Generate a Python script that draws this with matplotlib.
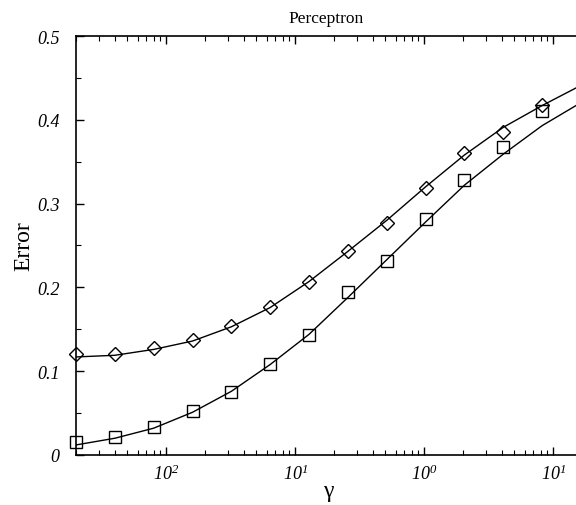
import numpy as np
import matplotlib.pyplot as plt
from matplotlib.ticker import LogLocator, FixedLocator, MultipleLocator, NullFormatter

gamma = [0.002, 0.004, 0.008, 0.016, 0.032, 0.064, 0.128, 0.256, 0.512, 1.024, 2.048, 4.096, 8.192]
err_diamond = [0.1205, 0.1205, 0.128, 0.137, 0.154, 0.177, 0.207, 0.243, 0.277, 0.319, 0.360, 0.386, 0.418]
err_square = [0.015, 0.022, 0.034, 0.0525, 0.075, 0.109, 0.143, 0.194, 0.231, 0.282, 0.328, 0.368, 0.410]

fit_gamma = [0.002, 0.004, 0.008, 0.016, 0.032, 0.064, 0.128, 0.256, 0.512, 1.024, 2.048, 4.096, 8.192, 15]
fit_diamond = [0.117, 0.119, 0.126, 0.136, 0.153, 0.176, 0.207, 0.243, 0.280, 0.320, 0.358, 0.391, 0.417, 0.438]
fit_square = [0.012, 0.020, 0.032, 0.051, 0.076, 0.108, 0.144, 0.188, 0.233, 0.278, 0.322, 0.359, 0.393, 0.417]

xtick_pos = [0.01, 0.1, 1, 10]
xtick_labels = ["10$^{2}$", "10$^{1}$", "10$^{0}$", "10$^{1}$"]
ytick_pos = [0, 0.1, 0.2, 0.3, 0.4, 0.5]
ytick_labels = ["0", "0.1", "0.2", "0.3", "0.4", "0.5"]

plt.rcParams["font.family"] = ["Liberation Serif", "DejaVu Serif"]
plt.rcParams["mathtext.fontset"] = "custom"
plt.rcParams["mathtext.rm"] = "Liberation Serif:italic"
plt.rcParams["mathtext.it"] = "Liberation Serif:italic"

fig = plt.figure(figsize=(5.76, 5.06), dpi=100)
ax = fig.add_axes([76 / 576, 50 / 506, 1 - 76 / 576, 419 / 506])

ax.plot(fit_gamma, fit_diamond, color="black", lw=1)
ax.plot(fit_gamma, fit_square, color="black", lw=1)
ax.plot(gamma, err_diamond, "D", ms=7.5, mfc="none", mec="black", mew=1, clip_on=False)
ax.plot(gamma, err_square, "s", ms=8, mfc="none", mec="black", mew=1, clip_on=False)

ax.set_xscale("log")
ax.set_xlim(0.002, 15)
ax.set_ylim(0, 0.5)

ax.xaxis.set_major_locator(FixedLocator(xtick_pos))
ax.xaxis.set_minor_locator(LogLocator(base=10, subs=np.arange(2, 10), numticks=20))
ax.xaxis.set_minor_formatter(NullFormatter())
ax.set_xticks(xtick_pos)
ax.set_xticklabels(xtick_labels, fontsize=13, style="italic")
ax.set_yticks(ytick_pos)
ax.set_yticklabels(ytick_labels, fontsize=13, style="italic")
ax.yaxis.set_minor_locator(MultipleLocator(0.05))

ax.tick_params(which="both", direction="in", top=True, right=False)
ax.tick_params(which="major", length=6, width=1)
ax.tick_params(which="minor", length=3.5, width=0.8)
ax.tick_params(axis="y", pad=12)
ax.tick_params(axis="x", pad=6)
ax.spines["right"].set_visible(False)
for s in ["left", "top", "bottom"]:
    ax.spines[s].set_linewidth(1.2)

ax.set_title("Perceptron", fontsize=12.5, pad=10)
ax.set_ylabel("Error", fontsize=17, labelpad=2)
fig.text(0.5690, 4 / 506, "γ", fontsize=17, ha="center", va="bottom")

fig.savefig("out.png", dpi=100)
